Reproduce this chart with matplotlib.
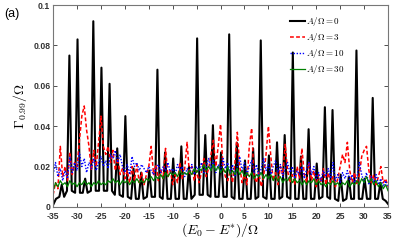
import numpy as np
import matplotlib
matplotlib.use('Agg')
from matplotlib import pyplot as plt

# A/Omega = 0 : sharp resonance peaks (peak, valley points)
black_x = [-35.0, -34.4,
           -33.7, -33.2, -32.7,
           -32.1, -31.6, -31.1,
           -30.4, -29.9, -29.4,
           -28.8, -28.3, -27.8,
           -27.1, -26.6, -26.1,
           -25.4, -24.9, -24.4,
           -23.7, -23.2, -22.7,
           -22.1, -21.6, -21.1,
           -20.4, -19.9, -19.4,
           -18.7, -18.2, -17.7,
           -17.1, -16.6, -16.1,
           -15.4, -14.9, -14.4,
           -13.7, -13.2, -12.7,
           -12.1, -11.6, -11.1,
           -10.4, -9.9, -9.4,
           -8.7, -8.2, -7.7,
           -7.1, -6.6, -6.1,
           -5.4, -4.9, -4.4,
           -3.7, -3.2, -2.7,
           -2.1, -1.6, -1.1,
           -0.4, 0.1, 0.6,
           1.3, 1.8, 2.3,
           2.9, 3.4, 3.9,
           4.6, 5.1, 5.6,
           6.3, 6.8, 7.3,
           7.9, 8.4, 8.9,
           9.6, 10.1, 10.6,
           11.3, 11.8, 12.3,
           12.9, 13.4, 13.9,
           14.6, 15.1, 15.6,
           16.3, 16.8, 17.3,
           17.9, 18.4, 18.9,
           19.6, 20.1, 20.6,
           21.3, 21.8, 22.3,
           22.9, 23.4, 23.9,
           24.6, 25.1, 25.6,
           26.3, 26.8, 27.3,
           27.9, 28.4, 28.9,
           29.6, 30.1, 30.6,
           31.3, 31.8, 32.3,
           32.9, 33.4, 33.9,
           34.5, 35.0]
black_y = [0.001, 0.004,
           0.005, 0.011, 0.005,
           0.008, 0.075, 0.008,
           0.007, 0.083, 0.007,
           0.007, 0.014, 0.007,
           0.008, 0.092, 0.008,
           0.008, 0.069, 0.008,
           0.008, 0.061, 0.008,
           0.006, 0.029, 0.006,
           0.005, 0.045, 0.005,
           0.004, 0.019, 0.004,
           0.004, 0.017, 0.004,
           0.005, 0.018, 0.005,
           0.005, 0.068, 0.005,
           0.004, 0.027, 0.004,
           0.004, 0.024, 0.004,
           0.004, 0.030, 0.004,
           0.004, 0.020, 0.004,
           0.006, 0.0835, 0.006,
           0.006, 0.0356, 0.006,
           0.005, 0.0405, 0.005,
           0.005, 0.027, 0.005,
           0.005, 0.0855, 0.005,
           0.004, 0.0318, 0.004,
           0.004, 0.023, 0.004,
           0.004, 0.029, 0.004,
           0.005, 0.0825, 0.005,
           0.004, 0.0255, 0.004,
           0.004, 0.032, 0.004,
           0.005, 0.0356, 0.005,
           0.004, 0.0765, 0.004,
           0.004, 0.025, 0.004,
           0.004, 0.0385, 0.004,
           0.004, 0.0215, 0.004,
           0.005, 0.0494, 0.005,
           0.004, 0.048, 0.004,
           0.003, 0.016, 0.003,
           0.004, 0.015, 0.004,
           0.004, 0.0775, 0.004,
           0.004, 0.014, 0.004,
           0.004, 0.054, 0.004,
           0.004, 0.012, 0.004,
           0.003, 0.0015]

# noisy curves, sampled every 0.5 from -35 to 35
grid_x = np.arange(-35, 35.01, 0.5)

red_y = [0.006, 0.012, 0.009, 0.030, 0.015, 0.020, 0.013, 0.027, 0.016, 0.022,   # -35 .. -30.5
         0.020, 0.033, 0.045, 0.050, 0.038, 0.030, 0.018, 0.028, 0.020, 0.032,   # -30 .. -25.5
         0.045, 0.030, 0.026, 0.030, 0.022, 0.028, 0.018, 0.024, 0.016, 0.019,   # -25 .. -20.5
         0.014, 0.018, 0.012, 0.020, 0.013, 0.021, 0.012, 0.017, 0.011, 0.016,   # -20 .. -15.5
         0.020, 0.030, 0.016, 0.021, 0.013, 0.018, 0.014, 0.029, 0.015, 0.018,   # -15 .. -10.5
         0.011, 0.016, 0.012, 0.022, 0.014, 0.019, 0.032, 0.016, 0.020, 0.013,   # -10 .. -5.5
         0.018, 0.012, 0.017, 0.024, 0.015, 0.019, 0.026, 0.033, 0.020, 0.030,   # -5 .. -0.5
         0.041, 0.020, 0.015, 0.013, 0.018, 0.012, 0.022, 0.037, 0.020, 0.012,   # 0 .. 4.5
         0.016, 0.011, 0.030, 0.039, 0.015, 0.012, 0.017, 0.010, 0.015, 0.026,   # 5 .. 9.5
         0.040, 0.025, 0.013, 0.017, 0.011, 0.020, 0.016, 0.031, 0.018, 0.012,   # 10 .. 14.5
         0.016, 0.011, 0.020, 0.014, 0.029, 0.016, 0.012, 0.022, 0.013, 0.018,   # 15 .. 19.5
         0.010, 0.016, 0.012, 0.019, 0.011, 0.017, 0.012, 0.015, 0.010, 0.014,   # 20 .. 24.5
         0.020, 0.026, 0.022, 0.032, 0.018, 0.012, 0.017, 0.011, 0.016, 0.025,   # 25 .. 29.5
         0.028, 0.030, 0.018, 0.012, 0.016, 0.011, 0.015, 0.020, 0.012, 0.014,   # 30 .. 34.5
         0.010]                                                                  # 35

blue_y = [0.016, 0.022, 0.015, 0.019, 0.013, 0.018, 0.014, 0.025, 0.017, 0.022,
          0.018, 0.027, 0.020, 0.024, 0.017, 0.022, 0.019, 0.024, 0.018, 0.022,
          0.025, 0.020, 0.023, 0.019, 0.026, 0.024, 0.028, 0.022, 0.026, 0.020,
          0.017, 0.021, 0.016, 0.025, 0.020, 0.022, 0.018, 0.021, 0.019, 0.017,
          0.020, 0.018, 0.016, 0.019, 0.021, 0.017, 0.020, 0.018, 0.022, 0.017,
          0.019, 0.016, 0.021, 0.018, 0.020, 0.015, 0.019, 0.017, 0.021, 0.016,
          0.020, 0.018, 0.022, 0.017, 0.020, 0.024, 0.019, 0.023, 0.017, 0.021,
          0.018, 0.024, 0.019, 0.022, 0.017, 0.021, 0.015, 0.020, 0.025, 0.018,
          0.022, 0.016, 0.020, 0.023, 0.017, 0.021, 0.015, 0.019, 0.024, 0.018,
          0.021, 0.016, 0.020, 0.023, 0.017, 0.021, 0.015, 0.019, 0.022, 0.017,
          0.020, 0.014, 0.018, 0.016, 0.020, 0.014, 0.019, 0.022, 0.016, 0.020,
          0.014, 0.017, 0.013, 0.018, 0.015, 0.019, 0.014, 0.022, 0.013, 0.016,
          0.012, 0.017, 0.014, 0.018, 0.013, 0.016, 0.012, 0.015, 0.022, 0.016,
          0.012, 0.017, 0.011, 0.015, 0.012, 0.016, 0.011, 0.014, 0.010, 0.013,
          0.009]

green_y = [0.008, 0.012, 0.010, 0.013, 0.011, 0.012, 0.010, 0.013, 0.011, 0.012,
           0.010, 0.012, 0.011, 0.013, 0.011, 0.012, 0.010, 0.012, 0.011, 0.013,
           0.011, 0.012, 0.011, 0.013, 0.012, 0.014, 0.012, 0.013, 0.011, 0.013,
           0.012, 0.013, 0.011, 0.013, 0.012, 0.014, 0.012, 0.013, 0.012, 0.014,
           0.013, 0.015, 0.013, 0.015, 0.014, 0.016, 0.014, 0.017, 0.015, 0.017,
           0.016, 0.017, 0.015, 0.018, 0.016, 0.017, 0.016, 0.018, 0.016, 0.019,
           0.017, 0.019, 0.018, 0.021, 0.018, 0.020, 0.018, 0.021, 0.018, 0.020,
           0.017, 0.019, 0.017, 0.020, 0.016, 0.018, 0.016, 0.019, 0.016, 0.018,
           0.015, 0.017, 0.015, 0.017, 0.014, 0.016, 0.015, 0.017, 0.014, 0.016,
           0.014, 0.016, 0.013, 0.015, 0.013, 0.015, 0.012, 0.014, 0.013, 0.015,
           0.012, 0.014, 0.012, 0.013, 0.011, 0.013, 0.011, 0.013, 0.012, 0.014,
           0.011, 0.013, 0.011, 0.012, 0.010, 0.012, 0.011, 0.013, 0.011, 0.012,
           0.010, 0.012, 0.011, 0.013, 0.010, 0.012, 0.011, 0.013, 0.011, 0.014,
           0.012, 0.015, 0.012, 0.014, 0.011, 0.013, 0.010, 0.012, 0.009, 0.011,
           0.008]

labels = [r'$A/\Omega = 0$', r'$A/\Omega = 3$', r'$A/\Omega = 10$', r'$A/\Omega = 30$']
x_ticks = list(range(-35, 36, 5))
y_ticks = [0, 0.02, 0.04, 0.06, 0.08, 0.1]
y_ticklabels = ['0', '0.02', '0.04', '0.06', '0.08', '0.1']

plt.rcParams['mathtext.fontset'] = 'cm'
plt.rcParams['font.family'] = ['Liberation Sans', 'DejaVu Sans']

fig = plt.figure(figsize=(4.15, 2.42), dpi=100)
ax = fig.add_axes([0.128, 0.145, 0.807, 0.834])

ax.plot(black_x, black_y, color='k', lw=1.5, label=labels[0])
ax.plot(grid_x, red_y, color='r', lw=1.1, ls=(0, (2.5, 1.5)), label=labels[1])
ax.plot(grid_x, blue_y, color='b', lw=1.0, ls=(0, (1, 1.2)), label=labels[2])
ax.plot(grid_x, green_y, color=(0, 0.5, 0), lw=0.9, label=labels[3])

ax.set_xlim(-35, 35)
ax.set_ylim(0, 0.1)
ax.set_xticks(x_ticks)
ax.set_xticklabels([str(t) for t in x_ticks], fontweight='bold', fontsize=6.2)
ax.set_yticks(y_ticks)
ax.set_yticklabels(y_ticklabels, fontweight='bold', fontsize=6.2)
ax.tick_params(direction='in', top=True, right=True, length=3, width=0.6,
               colors='#333333')
ax.tick_params(axis='x', pad=3.5)
ax.tick_params(axis='y', pad=2)
for s in ax.spines.values():
    s.set_color('#777777')
    s.set_linewidth(0.8)

ax.set_xlabel(r'$(E_0-E^{*})/\Omega$', fontsize=10, labelpad=0)
ax.set_ylabel(r'$\Gamma_{0.99}/\Omega$', fontsize=10, labelpad=3)
fig.text(0.01, 0.93, '(a)', fontsize=9)

ax.legend(loc='upper right', bbox_to_anchor=(0.88, 0.97), frameon=False,
          fontsize=6.5, handlelength=1.6, handletextpad=0.1, labelspacing=0.35,
          borderaxespad=0)

fig.savefig('out.png', dpi=100)
